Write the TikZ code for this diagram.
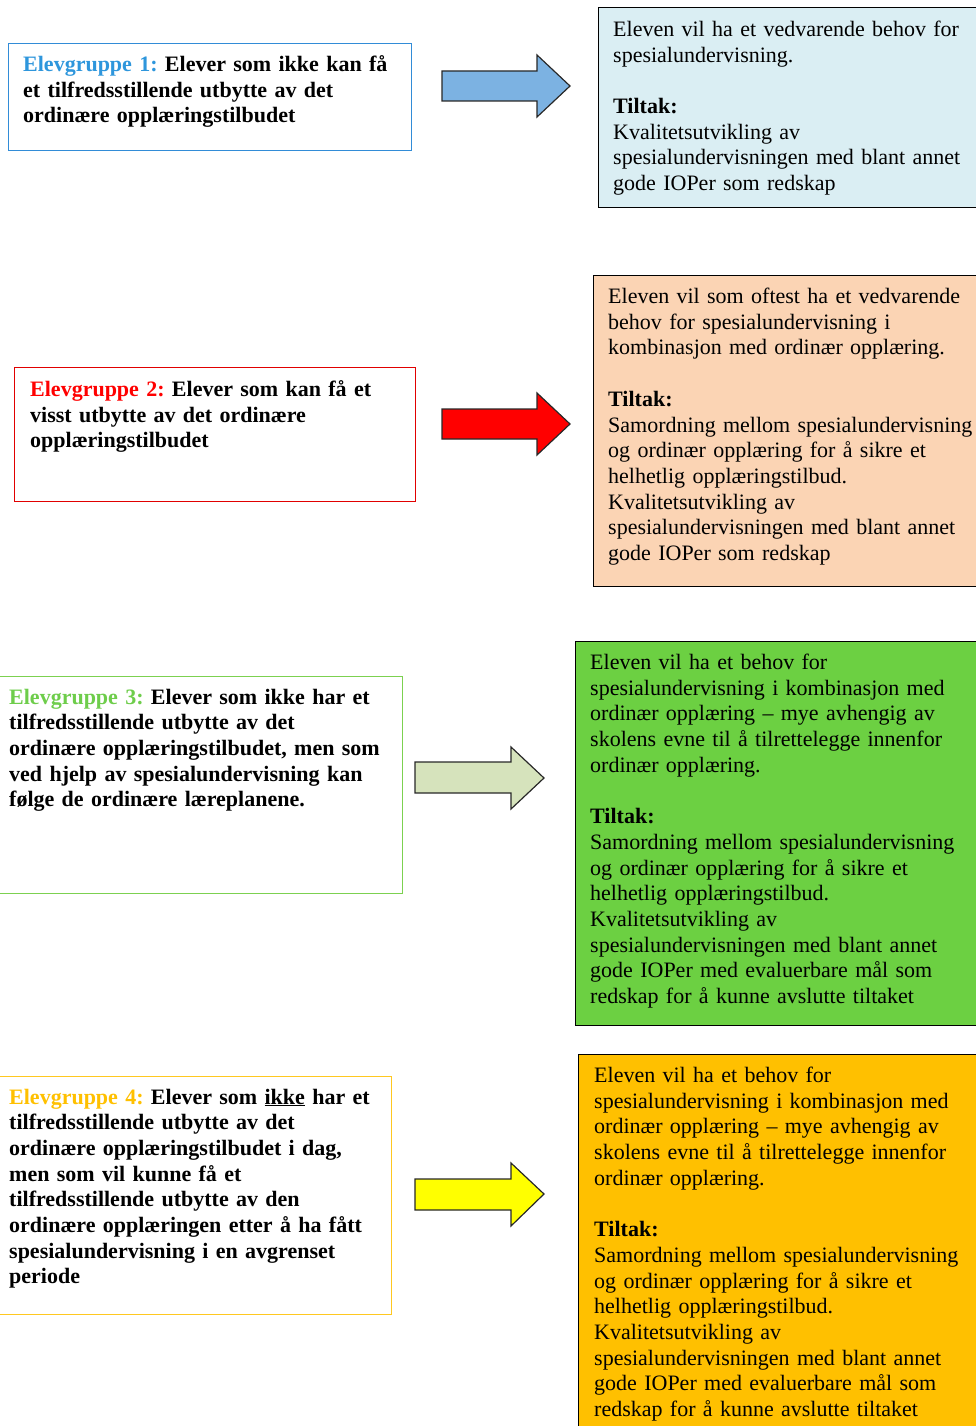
\documentclass[tikz,border=0pt]{standalone}
\usepackage{fontspec}
\setmainfont{Liberation Serif}
\frenchspacing
\definecolor{gblue}{RGB}{46,150,220}
\definecolor{bborder}{RGB}{50,140,215}
\definecolor{arrblue}{RGB}{124,178,226}
\definecolor{rone}{HTML}{DAEEF3}
\definecolor{gred}{RGB}{255,0,0}
\definecolor{rborder}{RGB}{225,0,0}
\definecolor{rtwo}{HTML}{FBD4B4}
\definecolor{ggreen}{RGB}{110,205,75}
\definecolor{gborder}{RGB}{124,209,80}
\definecolor{arrgreen}{HTML}{D6E3BC}
\definecolor{rthree}{RGB}{108,208,66}
\definecolor{ggold}{HTML}{FFC000}
\definecolor{yborder}{HTML}{FFC820}
\definecolor{rfour}{HTML}{FFC000}
\definecolor{arryellow}{HTML}{FFFF00}
\definecolor{arrline}{RGB}{40,40,40}
\begin{document}
\begin{tikzpicture}[x=1pt,y=-1pt,
  txt/.style={anchor=base west, inner sep=0pt, align=left, text width=420pt,
    font=\fontsize{22}{25.7}\selectfont},
  lbox/.style={anchor=north west, inner sep=0pt, line width=1pt},
  rbox/.style={anchor=north west, inner sep=0pt, draw=black, line width=1pt},
  barrow/.style={draw=arrline, line width=1.2pt, line join=miter}
]
\useasboundingbox (0,0) rectangle (976,1426);
\clip (0,0) rectangle (976,1426);

% ---------- Row 1 ----------
\node[lbox, draw=bborder, minimum width=403pt, minimum height=107pt] (l1) at (8,43) {};
\node[txt] (t1) at (23,71.5) {\bfseries\textcolor{gblue}{Elevgruppe 1:} Elever som ikke kan få\\
et tilfredsstillende utbytte av det\\
ordinære opplæringstilbudet};
\node[rbox, fill=rone, minimum width=400pt, minimum height=200pt] (r1) at (598,7) {};
\node[txt] (s1) at (613,36.5) {Eleven vil ha et vedvarende behov for\\
spesialundervisning.\\[25.7pt]
\textbf{Tiltak:}\\
Kvalitetsutvikling av\\
spesialundervisningen med blant annet\\
gode IOPer som redskap};
\path[barrow, fill=arrblue] (442,71) -- (537,71) -- (537,55) -- (570,86) -- (537,117) -- (537,101) -- (442,101) -- cycle;

% ---------- Row 2 ----------
\node[lbox, draw=rborder, minimum width=401pt, minimum height=134pt] (l2) at (14,367) {};
\node[txt] (t2) at (30,396.5) {\bfseries\textcolor{gred}{Elevgruppe 2:} Elever som kan få et\\
visst utbytte av det ordinære\\
opplæringstilbudet};
\node[rbox, fill=rtwo, minimum width=400pt, minimum height=311pt] (r2) at (593,275) {};
\node[txt] (s2) at (608,303.5) {Eleven vil som oftest ha et vedvarende\\
behov for spesialundervisning i\\
kombinasjon med ordinær opplæring.\\[25.7pt]
\textbf{Tiltak:}\\
Samordning mellom spesialundervisning\\
og ordinær opplæring for å sikre et\\
helhetlig opplæringstilbud.\\
Kvalitetsutvikling av\\
spesialundervisningen med blant annet\\
gode IOPer som redskap};
\path[barrow, fill=gred] (442,409) -- (537,409) -- (537,393) -- (570,424) -- (537,455) -- (537,439) -- (442,439) -- cycle;

% ---------- Row 3 ----------
\node[lbox, draw=gborder, minimum width=403pt, minimum height=217pt] (l3) at (-1,676) {};
\node[txt] (t3) at (9,704) {\bfseries\textcolor{ggreen}{Elevgruppe 3:} Elever som ikke har et\\
tilfredsstillende utbytte av det\\
ordinære opplæringstilbudet, men som\\
ved hjelp av spesialundervisning kan\\
følge de ordinære læreplanene.};
\node[rbox, fill=rthree, minimum width=420pt, minimum height=384pt] (r3) at (575,641) {};
\node[txt] (s3) at (590,669.5) {Eleven vil ha et behov for\\
spesialundervisning i kombinasjon med\\
ordinær opplæring -- mye avhengig av\\
skolens evne til å tilrettelegge innenfor\\
ordinær opplæring.\\[25.7pt]
\textbf{Tiltak:}\\
Samordning mellom spesialundervisning\\
og ordinær opplæring for å sikre et\\
helhetlig opplæringstilbud.\\
Kvalitetsutvikling av\\
spesialundervisningen med blant annet\\
gode IOPer med evaluerbare mål som\\
redskap for å kunne avslutte tiltaket};
\path[barrow, fill=arrgreen] (415,762) -- (511,762) -- (511,747) -- (544,778) -- (511,809) -- (511,793) -- (415,793) -- cycle;

% ---------- Row 4 ----------
\node[lbox, draw=yborder, minimum width=392pt, minimum height=238pt] (l4) at (-1,1076) {};
\node[txt] (t4) at (9,1104) {\bfseries\textcolor{ggold}{Elevgruppe 4:} Elever som \underline{ikke} har et\\
tilfredsstillende utbytte av det\\
ordinære opplæringstilbudet i dag,\\
men som vil kunne få et\\
tilfredsstillende utbytte av den\\
ordinære opplæringen etter å ha fått\\
spesialundervisning i en avgrenset\\
periode};
\node[rbox, fill=rfour, minimum width=420pt, minimum height=400pt] (r4) at (578,1054) {};
\node[txt] (s4) at (594,1082.5) {Eleven vil ha et behov for\\
spesialundervisning i kombinasjon med\\
ordinær opplæring -- mye avhengig av\\
skolens evne til å tilrettelegge innenfor\\
ordinær opplæring.\\[25.7pt]
\textbf{Tiltak:}\\
Samordning mellom spesialundervisning\\
og ordinær opplæring for å sikre et\\
helhetlig opplæringstilbud.\\
Kvalitetsutvikling av\\
spesialundervisningen med blant annet\\
gode IOPer med evaluerbare mål som\\
redskap for å kunne avslutte tiltaket};
\path[barrow, fill=arryellow] (415,1179) -- (511,1179) -- (511,1163) -- (544,1194) -- (511,1226) -- (511,1210) -- (415,1210) -- cycle;
\end{tikzpicture}
\end{document}
